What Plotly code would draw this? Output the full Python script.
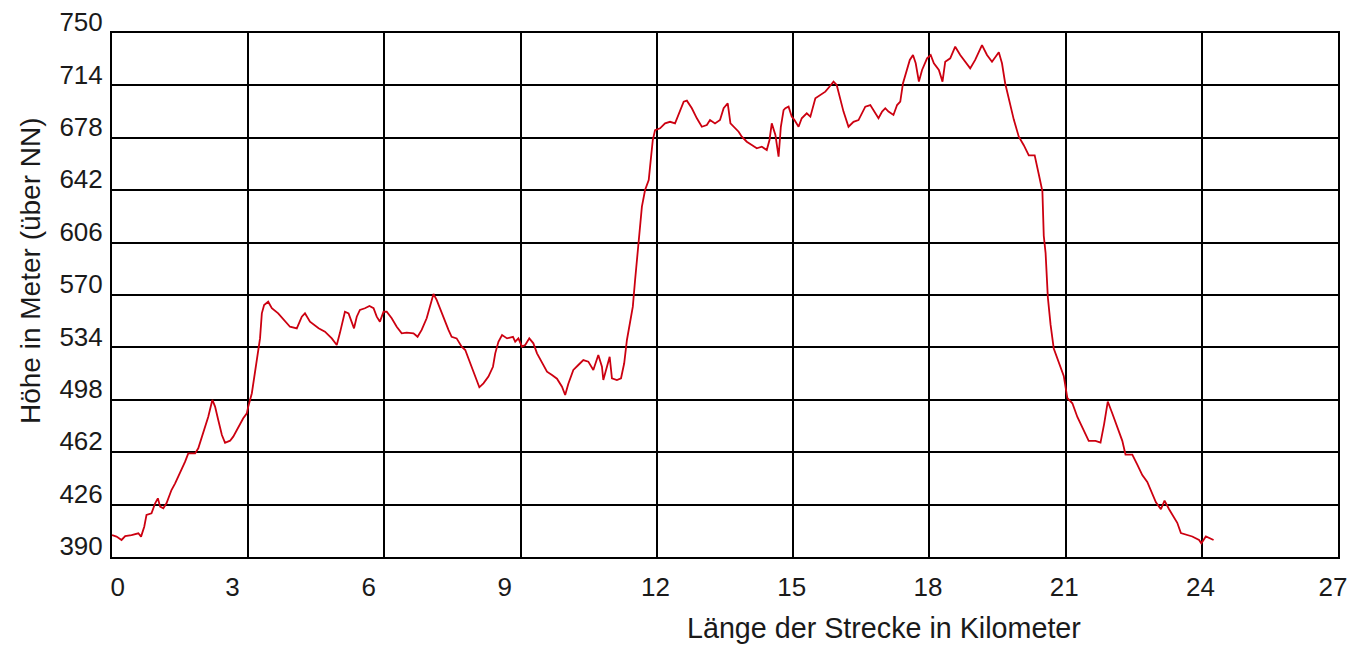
import plotly.graph_objects as go

# Distance along the route (km) and elevation (m above sea level)
km = [0.00, 0.10, 0.21, 0.29, 0.43, 0.58, 0.64, 0.71, 0.76, 0.87, 0.95, 1.01, 1.06, 1.13, 1.20,
      1.31, 1.39, 1.50, 1.61, 1.68, 1.83, 1.90, 1.98, 2.05, 2.12, 2.21, 2.27, 2.34, 2.42, 2.49,
      2.60, 2.67, 2.78, 2.89, 2.97, 3.00, 3.08, 3.15, 3.22, 3.26, 3.30, 3.35, 3.44, 3.52, 3.66,
      3.81, 3.92, 4.07, 4.18, 4.25, 4.36, 4.55, 4.69, 4.84, 4.95, 5.02, 5.13, 5.21, 5.28, 5.33,
      5.39, 5.46, 5.57, 5.67, 5.76, 5.83, 5.90, 5.98, 6.05, 6.16, 6.27, 6.38, 6.49, 6.64, 6.73,
      6.82, 6.93, 7.01, 7.08, 7.15, 7.26, 7.34, 7.41, 7.48, 7.59, 7.70, 7.78, 7.89, 8.00, 8.09,
      8.18, 8.29, 8.39, 8.44, 8.51, 8.59, 8.70, 8.83, 8.88, 8.95, 9.03, 9.10, 9.19, 9.28, 9.36,
      9.47, 9.58, 9.69, 9.80, 9.91, 9.98, 10.05, 10.16, 10.27, 10.38, 10.49, 10.60, 10.71, 10.79,
      10.82, 10.90, 10.96, 11.01, 11.12, 11.21, 11.28, 11.34, 11.41, 11.47, 11.52, 11.57, 11.62,
      11.67, 11.74, 11.82, 11.85, 11.91, 11.96, 12.07, 12.18, 12.29, 12.40, 12.48, 12.59, 12.66,
      12.77, 12.88, 12.99, 13.10, 13.17, 13.28, 13.39, 13.47, 13.56, 13.62, 13.73, 13.80, 13.87,
      13.98, 14.09, 14.20, 14.31, 14.42, 14.48, 14.53, 14.61, 14.68, 14.73, 14.79, 14.83, 14.90,
      14.97, 15.03, 15.12, 15.19, 15.30, 15.38, 15.49, 15.60, 15.71, 15.80, 15.89, 15.96, 16.04,
      16.11, 16.22, 16.33, 16.44, 16.59, 16.70, 16.81, 16.88, 16.96, 17.03, 17.10, 17.21, 17.29,
      17.36, 17.42, 17.49, 17.57, 17.64, 17.70, 17.77, 17.84, 17.95, 18.03, 18.10, 18.21, 18.29,
      18.35, 18.46, 18.57, 18.68, 18.79, 18.90, 19.01, 19.16, 19.27, 19.38, 19.53, 19.60, 19.67,
      19.75, 19.86, 19.97, 20.08, 20.19, 20.32, 20.41, 20.49, 20.52, 20.56, 20.61, 20.67, 20.74,
      20.85, 20.96, 21.04, 21.15, 21.26, 21.37, 21.51, 21.66, 21.77, 21.85, 21.93, 22.03, 22.14,
      22.25, 22.32, 22.47, 22.58, 22.69, 22.80, 22.91, 22.99, 23.10, 23.18, 23.28, 23.38, 23.46,
      23.54, 23.65, 23.79, 23.94, 23.99, 24.09, 24.26]

hoehe = [405.1, 404.0, 401.7, 404.4, 405.0, 406.3, 404.0, 410.8, 418.9, 420.0, 426.9, 430.3, 424.6,
         423.5, 426.9, 436.0, 440.6, 447.5, 455.5, 461.2, 461.2, 464.7, 472.7, 479.5, 486.4, 497.9,
         493.3, 484.1, 473.8, 468.5, 469.9, 472.7, 479.5, 485.3, 488.7, 493.3, 502.5, 516.2, 532.2,
         540.2, 557.4, 563.1, 565.4, 560.9, 557.4, 551.7, 548.2, 547.1, 555.1, 557.4, 551.7, 547.1,
         544.8, 540.2, 535.6, 544.0, 558.5, 557.4, 550.5, 547.1, 555.1, 559.7, 560.9, 562.4, 560.9,
         555.1, 551.7, 558.5, 558.5, 554.0, 548.2, 543.7, 544.1, 543.7, 541.3, 546.0, 554.0, 562.0,
         570.7, 566.6, 557.4, 551.7, 546.0, 541.3, 540.2, 534.5, 532.2, 523.1, 513.9, 506.6, 509.3,
         513.9, 520.7, 529.9, 537.9, 542.5, 540.2, 541.3, 537.9, 540.2, 534.5, 535.6, 540.2, 536.8,
         529.9, 523.1, 517.3, 515.0, 512.5, 507.0, 501.3, 509.0, 518.5, 521.9, 525.3, 524.2, 518.5,
         528.8, 520.7, 511.6, 520.7, 527.6, 512.8, 511.6, 512.8, 523.1, 539.1, 552.8, 562.0, 580.3,
         598.6, 612.4, 630.7, 642.1, 649.0, 658.2, 676.5, 683.3, 684.5, 687.9, 689.0, 687.9, 694.8,
         702.8, 703.5, 698.3, 691.4, 685.6, 686.8, 690.2, 687.9, 690.2, 698.3, 701.7, 687.9, 684.5,
         682.2, 678.8, 675.3, 673.0, 670.8, 671.9, 669.6, 676.5, 687.9, 680.0, 665.0, 685.6, 697.0,
         698.3, 699.4, 692.5, 690.2, 685.6, 691.4, 694.8, 692.5, 705.1, 707.4, 709.7, 713.1, 716.6,
         714.3, 704.0, 696.0, 685.6, 689.0, 690.2, 699.4, 700.5, 694.8, 691.4, 696.0, 698.3, 696.0,
         693.7, 700.5, 702.8, 715.5, 722.3, 731.5, 734.9, 729.2, 716.6, 724.6, 732.6, 734.9, 729.2,
         724.6, 716.6, 730.3, 732.6, 740.6, 734.9, 730.3, 725.7, 731.5, 741.7, 734.9, 730.3, 736.8,
         729.2, 715.5, 704.6, 690.5, 678.8, 672.9, 665.9, 665.9, 653.0, 641.2, 610.7, 599.0, 568.4,
         549.6, 533.2, 523.8, 514.4, 499.2, 495.6, 486.2, 479.2, 469.8, 469.8, 468.6, 481.5, 496.8,
         488.6, 479.2, 469.8, 460.4, 460.4, 453.4, 446.3, 441.6, 433.4, 427.6, 422.8, 428.7, 422.8,
         418.1, 413.5, 406.4, 405.2, 404.1, 401.7, 399.4, 404.1, 401.7]

NB = "\u00a0"
x_ticks = [0, 3, 6, 9, 12, 15, 18, 21, 24, 27]
x_ticktext = [NB * 3 + "0", "3" + NB * 3, "6" + NB * 3, "9" + NB * 3,
              NB + "12", NB + "15", NB + "18", NB + "21", NB + "24", "27"]
y_ticks = [390, 426, 462, 498, 534, 570, 606, 642, 678, 714, 750]

x_title = "Länge der Strecke in Kilometer"
y_title = "Höhe in Meter (über NN)"

FONT = "Liberation Sans, Arial, sans-serif"
TXT = "#1a1a1a"

fig = go.Figure()
fig.add_trace(go.Scatter(
    x=km, y=hoehe, mode="lines",
    line=dict(color="#cc0010", width=1.8),
    showlegend=False,
))

fig.update_layout(
    width=1350, height=645, autosize=False,
    margin=dict(l=112, r=12, t=33, b=88),
    paper_bgcolor="white", plot_bgcolor="white",
    font=dict(family=FONT, size=26, color=TXT),
    xaxis=dict(
        range=[0, 27], tickmode="array", tickvals=x_ticks, ticktext=x_ticktext,
        automargin=False,
        showgrid=True, gridcolor="black", gridwidth=2,
        showline=True, linecolor="black", linewidth=2, mirror=True,
        zeroline=False, ticks="", ticklabelstandoff=6, ticklabelshift=-5,
        ticklabeloverflow="allow",
        tickfont=dict(family=FONT, size=26, color=TXT),
    ),
    yaxis=dict(
        range=[390, 750], tickmode="array", tickvals=y_ticks,
        automargin=False,
        showgrid=True, gridcolor="black", gridwidth=2,
        showline=True, linecolor="black", linewidth=2, mirror=True,
        zeroline=False, ticks="", ticklabelshift=-11, ticklabelstandoff=2,
        ticklabeloverflow="allow",
        tickfont=dict(family=FONT, size=26, color=TXT),
    ),
    annotations=[
        dict(text=x_title, xref="paper", yref="paper", x=(884 - 112) / 1226, y=-(628 - 557) / 524,
             xanchor="center", yanchor="middle", showarrow=False,
             font=dict(family=FONT, size=28.7, color=TXT)),
        dict(text=y_title, xref="paper", yref="paper", x=-(112 - 30) / 1226, y=(557 - 271) / 524,
             xanchor="center", yanchor="middle", showarrow=False, textangle=-90,
             font=dict(family=FONT, size=28, color=TXT)),
    ],
)

fig.write_html(
    "out.html",
    config={"displayModeBar": False, "responsive": False},
    post_script="document.body.style.margin='0px';document.body.style.overflow='hidden';",
)
